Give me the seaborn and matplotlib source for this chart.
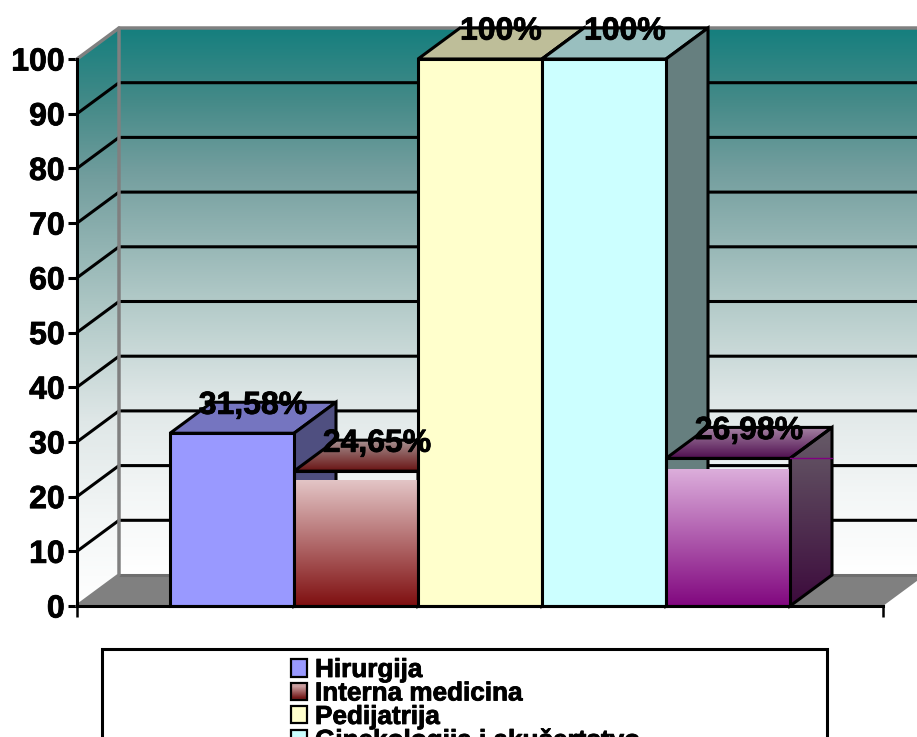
import numpy as np
import pandas as pd
import matplotlib
matplotlib.use("Agg")
import matplotlib.pyplot as plt
import matplotlib.patheffects as pe
from matplotlib.colors import to_rgb
from matplotlib.legend_handler import HandlerBase
from matplotlib.patches import Patch, Polygon, Rectangle
import seaborn as sns

categories = ["Hirurgija", "Interna medicina", "Pedijatrija",
              "Ginekologija i akušertstvo", "(peta kategorija)"]
values = [31.58, 24.65, 100, 100, 26.98]
value_labels = ["31,58%", "24,65%", "100%", "100%", "26,98%"]
legend_labels = categories[:4]
y_ticks = list(range(0, 101, 10))

front_colors = ["#9999ff", "#800000", "#ffffcc", "#ccffff", "#800080"]
top_colors = ["#7575c0", None, "#bebe99", "#99bfbf", None]
side_colors = ["#4f4f80", "#4f4f80", "#7f7f66", "#667f7f", None]
# (light end, dark end) of the gradients, top to bottom
front_grad = {1: ("#e3c5c6", "#7f0f10"), 4: ("#dcaedb", "#81077f")}
top_grad = {1: ("#a69292", "#6a1414"), 4: ("#a583a3", "#4f0f50")}
side_grad = {4: ("#675c68", "#3c0a3c")}
grad_start = {1: 23.0, 4: 24.9}   # gradient begins a little under the bar top

wall_stops = [0.0, 0.13, 0.26, 0.5, 0.68, 0.85, 1.0]
wall_rgb = [(21, 127, 126), (68, 138, 136), (115, 158, 158), (178, 202, 200),
            (223, 231, 231), (243, 246, 246), (255, 255, 255)]
FLOOR = "#808080"
WALL_EDGE = "#808080"

W, H = 917, 737
AX_L, AX_R, AX_B, AX_T = 77, 883, 606, 59
LW = 2.2
DX_PX, DY_PX = 42, 31
BAR_PX = 124
BOLDER = [pe.withStroke(linewidth=0.6, foreground="black")]

sns.set_theme(style="white")
plt.rcParams["font.family"] = ["Liberation Sans", "DejaVu Sans"]
plt.rcParams["font.weight"] = "bold"

fig = plt.figure(figsize=(W / 100, H / 100), dpi=100, facecolor="white")
ax = fig.add_axes([AX_L / W, (H - AX_B) / H, (AX_R - AX_L) / W, (AX_B - AX_T) / H])
ax.patch.set_visible(False)

df = pd.DataFrame({"category": categories, "value": values})
sns.barplot(data=df, x="category", y="value", hue="category", palette=front_colors,
            width=1.0, dodge=False, legend=False, edgecolor="black", linewidth=LW,
            saturation=1, ax=ax, zorder=20)
bars = list(ax.patches)

x0, x1 = -0.5 - 93 / BAR_PX, 4.5 + 93 / BAR_PX
ax.set_xlim(x0, x1)
ax.set_ylim(0, 100)
dx = DX_PX / BAR_PX
dy = DY_PX / (AX_B - AX_T) * 100


def grad_img(c_top, c_bot, extent, z, clip=None):
    a, b = np.array(to_rgb(c_top)), np.array(to_rgb(c_bot))
    t = np.linspace(0, 1, 256)[:, None, None]
    img = a[None, None, :] * (1 - t) + b[None, None, :] * t
    im = ax.imshow(img, extent=extent, aspect="auto", origin="upper", zorder=z,
                   interpolation="bilinear", clip_on=clip is not None)
    if clip is not None:
        clip.set_transform(ax.transData)
        im.set_clip_path(clip)
        im.set_clip_box(fig.bbox)
    return im


# walls
t = np.linspace(0, 1, 256)
wall = np.stack([np.interp(t, wall_stops, [c[k] / 255 for c in wall_rgb]) for k in range(3)], axis=1)[:, None, :]
ax.imshow(wall, extent=(x0 + dx, x1 + dx, dy, 100 + dy), aspect="auto", origin="upper",
          zorder=1, clip_on=False)
left_poly = Polygon([(x0, 0), (x0 + dx, dy), (x0 + dx, 100 + dy), (x0, 100)], closed=True)
im = ax.imshow(wall, extent=(x0, x0 + dx, 0, 100 + dy), aspect="auto", origin="upper", zorder=1)
left_poly.set_transform(ax.transData)
im.set_clip_path(left_poly)
im.set_clip_box(fig.bbox)

# floor
ax.fill([x0, x1, x1 + dx, x0 + dx], [0, 0, dy, dy], color=FLOOR, lw=0, zorder=2, clip_on=False)
ax.plot([x0 + dx, x1 + dx], [dy, dy], color="#6e6e6e", lw=LW, zorder=3, clip_on=False)

# grid
for v in y_ticks[1:-1]:
    ax.plot([x0, x0 + dx, x1 + dx], [v, v + dy, v + dy], color="black", lw=LW,
            zorder=4, clip_on=False, solid_joinstyle="miter")
ax.plot([x0, x0 + dx, x1 + dx], [100, 100 + dy, 100 + dy], color=WALL_EDGE, lw=LW + 0.3,
        zorder=5, clip_on=False)
ax.plot([x0, x0 + dx, x0 + dx], [0, dy, 100 + dy], color=WALL_EDGE, lw=LW + 0.3, zorder=5, clip_on=False)

# bars with depth, built from the seaborn bars
for i, bar in enumerate(bars):
    l, w, h = bar.get_x(), bar.get_width(), bar.get_height()
    r = l + w
    z = 10 + 3 * i
    bar.set_zorder(z + 2)
    bar.set_clip_on(False)
    if i in front_grad:
        bar.set_facecolor("none")
        grad_img(*front_grad[i], (l, r, 0, grad_start[i]), z + 1, clip=Rectangle((l, 0), w, grad_start[i]))
    top_xy = [(l, h), (r, h), (r + dx, h + dy), (l + dx, h + dy)]
    side_xy = [(r, 0), (r + dx, dy), (r + dx, h + dy), (r, h)]
    if i in top_grad:
        grad_img(*top_grad[i], (l, r + dx, h, h + dy), z, clip=Polygon(top_xy, closed=True))
        top_fc = "none"
    else:
        top_fc = top_colors[i]
    ax.add_patch(Polygon(top_xy, closed=True, fc=top_fc, ec="black", lw=LW, zorder=z + 0.5, clip_on=False))
    if i in side_grad:
        grad_img(*side_grad[i], (r, r + dx, 0, h + dy), z, clip=Polygon(side_xy, closed=True))
        side_fc = "none"
    else:
        side_fc = side_colors[i]
    ax.add_patch(Polygon(side_xy, closed=True, fc=side_fc, ec="black", lw=LW, zorder=z + 0.5, clip_on=False))
    if i == 4:
        ax.plot([r, r + dx], [h, h], color="#800080", lw=1, zorder=z + 3, clip_on=False)
    ax.annotate(value_labels[i], xy=(l + w / 2 + dx / 2, h + dy), xytext=(0, -2.6),
                textcoords="offset points", ha="center", va="center",
                fontsize=23, fontweight="bold", color="black", zorder=60,
                annotation_clip=False, path_effects=BOLDER)

# axes
for s in ("top", "right"):
    ax.spines[s].set_visible(False)
for s in ("left", "bottom"):
    ax.spines[s].set_color("black")
    ax.spines[s].set_linewidth(LW)
    ax.spines[s].set_zorder(50)
ax.set_xlabel("")
ax.set_ylabel("")
ax.set_yticks(y_ticks)
ax.set_yticklabels([str(v) for v in y_ticks], fontsize=23, fontweight="bold", color="black",
                   path_effects=BOLDER)
ax.set_xticks([x0, x1])
ax.set_xticklabels(["", ""])
ax.tick_params(axis="both", which="both", length=6.8, width=LW, color="black", pad=2,
               left=True, bottom=True)
ax.tick_params(axis="x", width=1.8, length=8)
ax.set_xlim(x0, x1)
ax.set_ylim(0, 100)


# legend
class GradHandle(HandlerBase):
    def __init__(self, c_top, c_bot, n=16):
        super().__init__()
        self.c = (np.array(to_rgb(c_top)), np.array(to_rgb(c_bot)))
        self.n = n

    def create_artists(self, legend, orig, xd, yd, width, height, fontsize, trans):
        out = []
        for k in range(self.n):
            c = self.c[0] + (self.c[1] - self.c[0]) * (k + 0.5) / self.n
            out.append(Rectangle((-xd, -yd + height * (1 - (k + 1) / self.n)), width, height / self.n + 0.3,
                                 fc=c, ec="none", transform=trans))
        out.append(Rectangle((-xd, -yd), width, height, fc="none", ec="black", lw=1.6, transform=trans))
        return out


handles = [Patch(fc=front_colors[i], ec="black", lw=1.6) for i in range(4)]
fig.add_artist(Rectangle((102 / W, -0.02), (827 - 102) / W, (H - 649) / H + 0.02, fc="white", ec="black",
                         lw=LW, transform=fig.transFigure))
leg = fig.legend(handles, legend_labels, loc="upper left",
                 bbox_to_anchor=(291 / W, (H - 658) / H), frameon=False,
                 prop={"family": "Liberation Sans", "weight": "bold", "size": 18.8},
                 handlelength=0.62, handleheight=0.65, handletextpad=0.3,
                 labelspacing=-0.02, borderpad=0, borderaxespad=0,
                 handler_map={handles[1]: GradHandle(*("#e3c5c6", "#6a0a0a"))})
for tx in leg.get_texts():
    tx.set_color("black")
    tx.set_path_effects(BOLDER)

fig.savefig("out.png", dpi=100, facecolor="white")
